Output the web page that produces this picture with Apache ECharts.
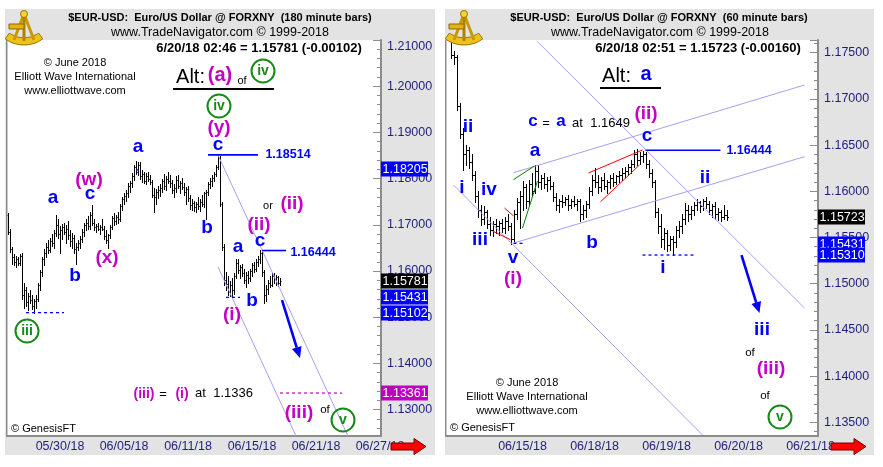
<!DOCTYPE html>
<html><head><meta charset="utf-8">
<script src="https://cdn.jsdelivr.net/npm/echarts@6/dist/echarts.min.js"></script>
<style>
html,body{margin:0;padding:0;background:#fff;overflow:hidden;}
#bgL{position:absolute;left:5px;top:9px;width:430px;height:446px;background:#e3e3e3;}
#bgR{position:absolute;left:445px;top:9px;width:429px;height:446px;background:#e3e3e3;}
#chart{position:absolute;left:0;top:0;width:883px;height:467px;}
</style></head><body>
<div id="bgL"></div><div id="bgR"></div>
<div id="chart"></div>
<script>
// ---------------- DATA ----------------
const leftDates = ['05/30/18','06/05/18','06/11/18','06/15/18','06/21/18','06/27/18'];
const leftDateIdx = [26,58,90,122,154,186];
const leftCount = 187;
// 180-minute bars [open, high, low, close]
const leftBars = [
[1.1722,1.1726,1.1680,1.1684],[1.1684,1.1690,1.1642,1.1648],[1.1648,1.1652,1.1615,1.1630],[1.1630,1.1636,1.1612,1.1620],
[1.1620,1.1632,1.1608,1.1625],[1.1625,1.1630,1.1612,1.1618],[1.1618,1.1636,1.1614,1.1632],[1.1632,1.1638,1.1540,1.1548],
[1.1548,1.1575,1.1520,1.1560],[1.1560,1.1565,1.1525,1.1532],[1.1532,1.1552,1.1515,1.1545],[1.1545,1.1560,1.1530,1.1538],
[1.1538,1.1548,1.1518,1.1525],[1.1525,1.1540,1.1510,1.1535],[1.1535,1.1548,1.1520,1.1540],[1.1540,1.1575,1.1535,1.1570],
[1.1570,1.1602,1.1560,1.1598],[1.1598,1.1630,1.1590,1.1625],[1.1625,1.1648,1.1612,1.1640],[1.1640,1.1660,1.1630,1.1652],
[1.1652,1.1668,1.1640,1.1645],[1.1645,1.1672,1.1642,1.1665],[1.1665,1.1680,1.1655,1.1660],[1.1660,1.1688,1.1650,1.1682],
[1.1682,1.1721,1.1675,1.1700],[1.1700,1.1712,1.1672,1.1680],[1.1680,1.1698,1.1640,1.1688],[1.1688,1.1702,1.1670,1.1695],
[1.1695,1.1705,1.1680,1.1685],[1.1685,1.1700,1.1660,1.1690],[1.1690,1.1708,1.1670,1.1678],[1.1678,1.1688,1.1655,1.1665],
[1.1665,1.1682,1.1650,1.1672],[1.1672,1.1678,1.1640,1.1648],[1.1648,1.1660,1.1615,1.1652],[1.1652,1.1668,1.1645,1.1660],
[1.1660,1.1675,1.1650,1.1670],[1.1670,1.1690,1.1662,1.1685],[1.1685,1.1705,1.1675,1.1700],[1.1700,1.1712,1.1688,1.1705],
[1.1705,1.1720,1.1690,1.1698],[1.1698,1.1728,1.1692,1.1722],[1.1722,1.1742,1.1700,1.1705],[1.1705,1.1712,1.1688,1.1695],
[1.1695,1.1702,1.1685,1.1698],[1.1698,1.1705,1.1688,1.1692],[1.1692,1.1700,1.1680,1.1695],[1.1695,1.1712,1.1688,1.1690],
[1.1690,1.1698,1.1670,1.1675],[1.1675,1.1688,1.1660,1.1668],[1.1668,1.1680,1.1649,1.1678],[1.1678,1.1700,1.1672,1.1695],
[1.1695,1.1720,1.1690,1.1715],[1.1715,1.1725,1.1700,1.1708],[1.1708,1.1722,1.1702,1.1718],[1.1718,1.1728,1.1705,1.1712],
[1.1712,1.1745,1.1708,1.1740],[1.1740,1.1760,1.1732,1.1755],[1.1755,1.1768,1.1745,1.1762],[1.1762,1.1775,1.1752,1.1768],
[1.1768,1.1790,1.1760,1.1785],[1.1785,1.1795,1.1772,1.1790],[1.1790,1.1812,1.1782,1.1805],[1.1805,1.1830,1.1798,1.1825],
[1.1825,1.1838,1.1810,1.1815],[1.1815,1.1836,1.1808,1.1830],[1.1830,1.1835,1.1800,1.1805],[1.1805,1.1818,1.1792,1.1810],
[1.1810,1.1815,1.1790,1.1795],[1.1795,1.1812,1.1788,1.1805],[1.1805,1.1815,1.1795,1.1800],[1.1800,1.1808,1.1788,1.1792],
[1.1792,1.1798,1.1760,1.1765],[1.1765,1.1780,1.1728,1.1760],[1.1760,1.1778,1.1745,1.1770],[1.1770,1.1785,1.1758,1.1775],
[1.1775,1.1788,1.1762,1.1780],[1.1780,1.1800,1.1772,1.1795],[1.1795,1.1810,1.1778,1.1785],[1.1785,1.1805,1.1775,1.1800],
[1.1800,1.1815,1.1790,1.1795],[1.1795,1.1808,1.1782,1.1790],[1.1790,1.1798,1.1768,1.1775],[1.1775,1.1788,1.1760,1.1780],
[1.1780,1.1805,1.1772,1.1798],[1.1798,1.1808,1.1780,1.1785],[1.1785,1.1795,1.1768,1.1790],[1.1790,1.1802,1.1778,1.1782],
[1.1782,1.1790,1.1765,1.1770],[1.1770,1.1782,1.1745,1.1778],[1.1778,1.1785,1.1752,1.1758],[1.1758,1.1765,1.1735,1.1742],
[1.1742,1.1755,1.1732,1.1748],[1.1748,1.1752,1.1730,1.1738],[1.1738,1.1750,1.1728,1.1745],[1.1745,1.1760,1.1735,1.1740],
[1.1740,1.1755,1.1730,1.1750],[1.1750,1.1765,1.1740,1.1745],[1.1745,1.1772,1.1738,1.1768],[1.1768,1.1775,1.1712,1.1770],
[1.1770,1.1792,1.1765,1.1788],[1.1788,1.1802,1.1780,1.1795],[1.1795,1.1808,1.1785,1.1802],[1.1802,1.1815,1.1795,1.1810],
[1.1810,1.1830,1.1805,1.1825],[1.1825,1.1851,1.1820,1.1845],[1.1845,1.1848,1.1740,1.1745],[1.1745,1.1750,1.1645,1.1652],
[1.1652,1.1658,1.1570,1.1580],[1.1580,1.1598,1.1560,1.1572],[1.1572,1.1590,1.1548,1.1555],[1.1555,1.1578,1.1545,1.1570],
[1.1570,1.1585,1.1543,1.1560],[1.1560,1.1595,1.1550,1.1590],[1.1590,1.1627,1.1585,1.1618],[1.1618,1.1625,1.1595,1.1602],
[1.1602,1.1612,1.1585,1.1608],[1.1608,1.1615,1.1590,1.1595],[1.1595,1.1605,1.1575,1.1580],[1.1580,1.1598,1.1565,1.1592],
[1.1592,1.1600,1.1575,1.1585],[1.1585,1.1605,1.1578,1.1600],[1.1600,1.1618,1.1590,1.1612],[1.1612,1.1620,1.1598,1.1605],
[1.1605,1.1625,1.1600,1.1620],[1.1620,1.1632,1.1610,1.1625],[1.1625,1.1645,1.1618,1.1638],[1.1638,1.1642,1.1590,1.1598],
[1.1598,1.1602,1.1530,1.1548],[1.1548,1.1570,1.1535,1.1562],[1.1562,1.1580,1.1550,1.1575],[1.1575,1.1590,1.1565,1.1570],
[1.1570,1.1595,1.1568,1.1590],[1.1590,1.1596,1.1575,1.1582],[1.1582,1.1592,1.1570,1.1588],[1.1588,1.1590,1.1568,1.1575],
[1.1575,1.1585,1.1570,1.1578]
];
const rightDates = ['06/15/18','06/18/18','06/19/18','06/20/18','06/21/18'];
const rightDateIdx = [25,49,73,97,121];
const rightCount = 124;
const rightStart = 1;
// 60-minute bars [open, high, low, close]
const rightBars = [
[1.1800,1.1810,1.1744,1.1748],[1.1748,1.1752,1.1738,1.1745],[1.1745,1.1748,1.1688,1.1692],[1.1692,1.1695,1.1658,1.1662],
[1.1662,1.1668,1.1623,1.1640],[1.1640,1.1650,1.1628,1.1645],[1.1645,1.1648,1.1625,1.1632],[1.1632,1.1640,1.1612,1.1618],
[1.1618,1.1622,1.1588,1.1595],[1.1595,1.1600,1.1572,1.1580],[1.1580,1.1585,1.1563,1.1570],[1.1570,1.1584,1.1565,1.1578],
[1.1578,1.1580,1.1560,1.1565],[1.1565,1.1572,1.1553,1.1558],[1.1558,1.1568,1.1552,1.1565],[1.1565,1.1570,1.1555,1.1562],
[1.1562,1.1568,1.1553,1.1566],[1.1566,1.1570,1.1556,1.1560],[1.1560,1.1572,1.1555,1.1568],[1.1568,1.1575,1.1558,1.1562],
[1.1562,1.1566,1.1543,1.1548],[1.1548,1.1580,1.1546,1.1575],[1.1575,1.1593,1.1570,1.1588],[1.1588,1.1600,1.1560,1.1595],
[1.1595,1.1611,1.1580,1.1605],[1.1605,1.1608,1.1582,1.1590],[1.1590,1.1612,1.1585,1.1608],[1.1608,1.1620,1.1595,1.1600],
[1.1600,1.1628,1.1598,1.1622],[1.1622,1.1628,1.1605,1.1610],[1.1610,1.1618,1.1602,1.1614],[1.1614,1.1620,1.1604,1.1608],
[1.1608,1.1615,1.1600,1.1612],[1.1612,1.1616,1.1603,1.1606],[1.1606,1.1610,1.1590,1.1594],[1.1594,1.1598,1.1580,1.1585],
[1.1585,1.1592,1.1578,1.1590],[1.1590,1.1596,1.1583,1.1588],[1.1588,1.1594,1.1585,1.1592],[1.1592,1.1596,1.1580,1.1585],
[1.1585,1.1592,1.1582,1.1590],[1.1590,1.1595,1.1584,1.1586],[1.1586,1.1592,1.1580,1.1590],[1.1590,1.1592,1.1568,1.1575],
[1.1575,1.1585,1.1570,1.1580],[1.1580,1.1590,1.1572,1.1586],[1.1586,1.1605,1.1582,1.1600],[1.1600,1.1618,1.1596,1.1612],
[1.1612,1.1625,1.1605,1.1610],[1.1610,1.1618,1.1598,1.1605],[1.1605,1.1615,1.1600,1.1612],[1.1612,1.1620,1.1602,1.1606],
[1.1606,1.1612,1.1598,1.1610],[1.1610,1.1618,1.1604,1.1614],[1.1614,1.1620,1.1606,1.1610],[1.1610,1.1618,1.1608,1.1616],
[1.1616,1.1622,1.1610,1.1618],[1.1618,1.1625,1.1612,1.1620],[1.1620,1.1626,1.1615,1.1622],[1.1622,1.1630,1.1618,1.1626],
[1.1626,1.1634,1.1620,1.1630],[1.1630,1.1645,1.1626,1.1640],[1.1640,1.1646,1.1628,1.1634],[1.1634,1.1642,1.1630,1.1638],
[1.1638,1.1644,1.1632,1.1640],[1.1640,1.1642,1.1625,1.1630],[1.1630,1.1634,1.1615,1.1620],[1.1620,1.1624,1.1605,1.1610],
[1.1610,1.1612,1.1572,1.1578],[1.1578,1.1582,1.1555,1.1562],[1.1562,1.1575,1.1540,1.1548],[1.1548,1.1560,1.1538,1.1555],
[1.1555,1.1558,1.1535,1.1542],[1.1542,1.1552,1.1536,1.1548],[1.1548,1.1552,1.1531,1.1545],[1.1545,1.1562,1.1540,1.1558],
[1.1558,1.1568,1.1550,1.1562],[1.1562,1.1575,1.1555,1.1570],[1.1570,1.1587,1.1565,1.1580],[1.1580,1.1585,1.1568,1.1575],
[1.1575,1.1584,1.1570,1.1580],[1.1580,1.1588,1.1574,1.1585],[1.1585,1.1592,1.1580,1.1588],[1.1588,1.1590,1.1578,1.1584],
[1.1584,1.1592,1.1580,1.1590],[1.1590,1.1594,1.1582,1.1586],[1.1586,1.1590,1.1575,1.1580],[1.1580,1.1586,1.1572,1.1584],
[1.1584,1.1588,1.1570,1.1575],[1.1575,1.1582,1.1569,1.1578],[1.1578,1.1580,1.1568,1.1572],[1.1572,1.1585,1.1570,1.1574],
[1.1574,1.1580,1.1569,1.1572]
];
// annotation geometry in (bar index, price)
const leftChannel = [[105,1.18511,169.5,1.12429],[104.5,1.16087,144,1.12429]];
const leftLevels = [[99.5,1.18514,125,1.18514],[127,1.16444,138.5,1.16444]];
const leftDashBlue = [[8.5,1.1510,27.5,1.1510],[108.5,1.1543,116,1.1543],[64,1.1819,67,1.1819]];
const leftDashTarget = [[136,1.1336,167,1.1336]];
const leftArrow = [137,1.15372,145.5,1.14117];
const leftTags = [[1.18205,'level'],[1.15781,'last'],[1.15431,'level'],[1.15102,'level'],[1.13361,'target']];

const rightChannel = [[21.8,1.16201,119.2,1.1715],[21.8,1.1544,119.2,1.16374],[29.8,1.17619,119.2,1.14737],[1.8,1.16068,84.8,1.13363]];
const rightRed = [[14.7,1.1557,20.8,1.15476],[18.8,1.15819,21.8,1.15733],[46.8,1.16198,64.8,1.16447],[50.8,1.15887,64.2,1.16285]];
const rightGreen = [[21.8,1.16126,29.2,1.16274],[24.8,1.15603,30.2,1.16112]];
const rightLevels = [[65.8,1.16444,90.8,1.16444]];
const rightDashBlue = [[64.8,1.1531,81.8,1.1531],[21.8,1.15437,24.8,1.15437]];
const rightArrow = [97.8,1.1531,103.5,1.14682];
const rightTags = [[1.15723,'last'],[1.15431,'level'],[1.1531,'level']];

// ---------------- RENDER ----------------
const F = "'Liberation Sans', Arial, sans-serif";
const BLUE = '#0000ff', MAG = '#c400c4', GRN = '#168a16', NAVY = '#1e1e80', AX = '#8c8c8c', CH = '#a99ff0';
const tagColor = {level: BLUE, last: '#000000', target: '#c000c0'};

function cats(n, idx, dates){ const a=[]; for(let i=0;i<n;i++){ const k=idx.indexOf(i); a.push(k>=0?dates[k]:''+i);} return a; }
function barData(bars, start){ return bars.map((b,i)=>[i+start,b[0],b[1],b[2],b[3]]); }

function ohlcRender(tw){
  return function(params, api){
    const i=api.value(0);
    const pH=api.coord([i,api.value(2)]), pL=api.coord([i,api.value(3)]);
    const pO=api.coord([i,api.value(1)]), pC=api.coord([i,api.value(4)]);
    const x=Math.round(pH[0])+0.5, yo=Math.round(pO[1])+0.5, yc=Math.round(pC[1])+0.5;
    const st={stroke:'#000',lineWidth:1};
    return {type:'group',children:[
      {type:'line',shape:{x1:x,y1:Math.round(pH[1]),x2:x,y2:Math.round(pL[1])+1},style:st},
      {type:'line',shape:{x1:x-tw,y1:yo,x2:x,y2:yo},style:st},
      {type:'line',shape:{x1:x,y1:yc,x2:x+tw,y2:yc},style:st}
    ]};
  };
}

function annotRender(cfg){
  return function(params, api){
    const cs=params.coordSys;
    const P=(i,p)=>api.coord([i,p]);
    const ch=[];
    const seg=(s,style)=>{const a=P(s[0],s[1]),b=P(s[2],s[3]);ch.push({type:'line',shape:{x1:a[0],y1:a[1],x2:b[0],y2:b[1]},style:style});};
    (cfg.channel||[]).forEach(s=>seg(s,{stroke:CH,lineWidth:1}));
    (cfg.red||[]).forEach(s=>seg(s,{stroke:'#ff0000',lineWidth:1}));
    (cfg.green||[]).forEach(s=>seg(s,{stroke:'#008000',lineWidth:1}));
    (cfg.levels||[]).forEach(s=>seg(s,{stroke:BLUE,lineWidth:1.6}));
    (cfg.dashBlue||[]).forEach(s=>seg(s,{stroke:BLUE,lineWidth:1.3,lineDash:[3,3]}));
    (cfg.dashTarget||[]).forEach(s=>seg(s,{stroke:'#c000c0',lineWidth:1.2,lineDash:[3,3]}));
    if(cfg.arrow){
      const a=P(cfg.arrow[0],cfg.arrow[1]), b=P(cfg.arrow[2],cfg.arrow[3]);
      const dx=b[0]-a[0], dy=b[1]-a[1], L=Math.sqrt(dx*dx+dy*dy), ux=dx/L, uy=dy/L;
      const hl=11, hw=5;
      const bx=b[0]-ux*hl, by=b[1]-uy*hl;
      ch.push({type:'line',shape:{x1:a[0],y1:a[1],x2:bx,y2:by},style:{stroke:BLUE,lineWidth:2.6}});
      ch.push({type:'polygon',shape:{points:[[b[0],b[1]],[bx-uy*hw,by+ux*hw],[bx+uy*hw,by-ux*hw]]},style:{fill:BLUE}});
    }
    const xr=cs.x+cs.width;
    (cfg.tags||[]).forEach(t=>{
      const y=P(0,t[0])[1];
      ch.push({type:'rect',shape:{x:xr,y:Math.round(y)-7.5,width:47,height:15},style:{fill:tagColor[t[1]]}});
      ch.push({type:'text',x:xr+1.5,y:Math.round(y)+0.5,style:{text:t[0].toFixed(5),fill:'#fff',font:'12.5px '+F,align:'left',verticalAlign:'middle'}});
    });
    return {type:'group',children:ch};
  };
}

function yLab(interval, topVal){
  return function(v){
    const r=v/interval; if(Math.abs(r-Math.round(r))>1e-6) return '';
    const s=v.toFixed(5);
    if(topVal!=null && Math.abs(v-topVal)<1e-9) return '{t|'+s+'}';
    return s;
  };
}
function yAxisCfg(gi,min,max,interval,topVal){
  return {gridIndex:gi,type:'value',position:'right',min:min,max:max,minInterval:interval,maxInterval:interval,splitNumber:8,
    splitLine:{show:false},
    axisLine:{show:true,lineStyle:{color:AX,width:2}},
    axisTick:{show:true,inside:true,length:8,lineStyle:{color:AX,width:1}},
    minorTick:{show:true,splitNumber:5,length:4,lineStyle:{color:AX,width:1}},
    axisLabel:{color:NAVY,fontSize:12.5,fontFamily:F,margin:6,formatter:yLab(interval,topVal),
      rich:{t:{color:NAVY,fontSize:12.5,fontFamily:F,padding:[13,0,0,0]}}}};
}
function xAxisCfg(gi,n,idx,dates){
  return {gridIndex:gi,type:'category',data:cats(n,idx,dates),boundaryGap:true,
    axisLine:{show:true,lineStyle:{color:AX,width:2}},axisTick:{show:false},splitLine:{show:false},
    axisLabel:{color:NAVY,fontSize:12.5,fontFamily:F,margin:4,interval:function(i){return idx.indexOf(i)>=0;}}};
}

function T(x,y,text,size,color,weight,align){
  return {type:'text',x:x,y:y,z:20,silent:true,style:{text:text,fill:color||'#000',font:(weight||'normal')+' '+size+'px '+F,align:align||'center',verticalAlign:'middle'}};
}
function Circ(x,y,text){
  return {type:'group',z:20,children:[
    {type:'circle',z:20,shape:{cx:x,cy:y,r:11.5},style:{fill:'rgba(255,255,255,0)',stroke:GRN,lineWidth:2}},
    {type:'text',z:20,x:x,y:y+0.5,style:{text:text,fill:GRN,font:'bold 14px '+F,align:'center',verticalAlign:'middle'}}]};
}
function logo(ox,oy){
  return {type:'group',x:ox,y:oy,z:20,children:[
    {type:'sector',z:20,shape:{cx:16,cy:2,r:32,r0:25,startAngle:Math.PI*0.30,endAngle:Math.PI*0.70},style:{fill:'#eec21a',stroke:'#9a7400',lineWidth:1}},
    {type:'polyline',z:20,shape:{points:[[6,29],[16,3],[26,29]]},style:{stroke:'#c99a00',lineWidth:3,fill:'none'}},
    {type:'line',z:20,shape:{x1:16,y1:3,x2:16,y2:30},style:{stroke:'#b08400',lineWidth:3}},
    {type:'rect',z:20,shape:{x:1,y:13,width:15,height:5},style:{fill:'#e6b410',stroke:'#8a6a00',lineWidth:1}},
    {type:'circle',z:20,shape:{cx:16,cy:3,r:3.5},style:{fill:'#f4d23a',stroke:'#9a7400',lineWidth:1}}
  ]};
}
function redArrow(x){
  return {type:'polygon',z:20,shape:{points:[[x,443],[x+23,443],[x+23,438.5],[x+35,446.5],[x+23,454.5],[x+23,450],[x,450]]},style:{fill:'#ff0000',stroke:'#700000',lineWidth:1}};
}

const graphics = [
  // left panel
  logo(8,11),
  T(220,18,'$EUR-USD:  Euro/US Dollar @ FORXNY  (180 minute bars)',11,'#000','bold'),
  T(220,33,'www.TradeNavigator.com \u00a9 1999-2018',12.5),
  T(259,48,'6/20/18 02:46 = 1.15781 (-0.00102)',13,'#000','bold'),
  T(75,63,'\u00a9 June 2018',11), T(75,77,'Elliott Wave International',11), T(75,91,'www.elliottwave.com',11),
  T(190.5,77,'Alt:',20), T(220,75,'(a)',20,MAG,'bold'), T(242,81,'of',11), Circ(263,71,'iv'),
  {type:'rect',z:20,shape:{x:173,y:88,width:101,height:2},style:{fill:'#000'}},
  Circ(219,106,'iv'), T(219,128,'(y)',19,MAG,'bold'), T(218,145,'c',19,BLUE,'bold'),
  T(288,155,'1.18514',12.5,BLUE,'bold'),
  T(53,198,'a',19,BLUE,'bold'), T(89,180,'(w)',19,MAG,'bold'), T(90,194,'c',19,BLUE,'bold'),
  T(75,276,'b',19,BLUE,'bold'), T(107,258,'(x)',19,MAG,'bold'), T(138,147,'a',19,BLUE,'bold'),
  T(207,228,'b',19,BLUE,'bold'), T(268,206,'or',11), T(292,204,'(ii)',19,MAG,'bold'),
  T(259,225,'(ii)',19,MAG,'bold'), T(260,241,'c',19,BLUE,'bold'), T(313,253,'1.16444',12.5,BLUE,'bold'),
  T(238,247,'a',19,BLUE,'bold'), T(252,301,'b',19,BLUE,'bold'), T(232,315,'(i)',19,MAG,'bold'),
  Circ(27,331,'iii'),
  T(144,394,'(iii)',14,MAG,'bold'), T(163,394,'=',13), T(182,394,'(i)',14,MAG,'bold'), T(224,393,'at  1.1336',13),
  T(299,413,'(iii)',19,MAG,'bold'), T(325,410,'of',11.5), Circ(343,420,'v'),
  T(11,429,'\u00a9 GenesisFT',11,'#000','normal','left'),
  {type:'rect',z:20,shape:{x:6,y:40,width:1.5,height:397},style:{fill:AX}},
  redArrow(391),
  // right panel
  logo(448,11),
  T(659,18,'$EUR-USD:  Euro/US Dollar @ FORXNY  (60 minute bars)',11,'#000','bold'),
  T(660,33,'www.TradeNavigator.com \u00a9 1999-2018',12.5),
  T(698,48,'6/20/18 02:51 = 1.15723 (-0.00160)',13,'#000','bold'),
  T(616.5,76,'Alt:',20), T(646,74,'a',20,BLUE,'bold'),
  {type:'rect',z:20,shape:{x:600,y:87,width:61,height:2},style:{fill:'#000'}},
  T(533,121,'c',17,BLUE,'bold'), T(546,123,'=',13), T(561,121,'a',17,BLUE,'bold'), T(601,123,'at  1.1649',13),
  T(646,114,'(ii)',19,MAG,'bold'), T(647,136,'c',19,BLUE,'bold'), T(749,151,'1.16444',12.5,BLUE,'bold'),
  T(468,127,'ii',19,BLUE,'bold'), T(462,188,'i',19,BLUE,'bold'), T(489,190,'iv',19,BLUE,'bold'),
  T(480,240,'iii',19,BLUE,'bold'), T(513,258,'v',19,BLUE,'bold'), T(513,279,'(i)',19,MAG,'bold'),
  T(535,151,'a',19,BLUE,'bold'), T(592,243,'b',19,BLUE,'bold'), T(663,268,'i',19,BLUE,'bold'),
  T(705,178,'ii',19,BLUE,'bold'),
  T(762,330,'iii',19,BLUE,'bold'), T(750,353,'of',11.5), T(771,369,'(iii)',19,MAG,'bold'), T(765,396,'of',11.5),
  Circ(780,417,'v'),
  T(527,383,'\u00a9 June 2018',11), T(527,397,'Elliott Wave International',11), T(527,411,'www.elliottwave.com',11),
  T(450,428,'\u00a9 GenesisFT',11,'#000','normal','left'),
  {type:'rect',z:20,shape:{x:445,y:40,width:1.5,height:397},style:{fill:AX}},
  redArrow(831)
];

const chart = echarts.init(document.getElementById('chart'), null, {renderer:'canvas'});
chart.setOption({
  animation:false,
  backgroundColor:'transparent',
  grid:[
    {left:7,top:40,width:374,height:396,show:true,backgroundColor:'#ffffff',borderWidth:0},
    {left:446,top:40,width:372,height:396,show:true,backgroundColor:'#ffffff',borderWidth:0}
  ],
  xAxis:[xAxisCfg(0,leftCount,leftDateIdx,leftDates), xAxisCfg(1,rightCount,rightDateIdx,rightDates)],
  yAxis:[yAxisCfg(0,1.1243,1.21,0.01,1.21), yAxisCfg(1,1.13352,1.17637,0.005,null)],
  series:[
    {type:'custom',xAxisIndex:0,yAxisIndex:0,data:barData(leftBars,0),encode:{x:0,y:[1,2,3,4]},renderItem:ohlcRender(1),clip:true,silent:true,z:2},
    {type:'custom',xAxisIndex:1,yAxisIndex:1,data:barData(rightBars,rightStart),encode:{x:0,y:[1,2,3,4]},renderItem:ohlcRender(1.5),clip:true,silent:true,z:2},
    {type:'custom',xAxisIndex:0,yAxisIndex:0,data:[[0,1.17]],renderItem:annotRender({channel:leftChannel,levels:leftLevels,dashBlue:leftDashBlue,dashTarget:leftDashTarget,arrow:leftArrow,tags:leftTags}),clip:false,silent:true,z:3},
    {type:'custom',xAxisIndex:1,yAxisIndex:1,data:[[0,1.16]],renderItem:annotRender({channel:rightChannel,red:rightRed,green:rightGreen,levels:rightLevels,dashBlue:rightDashBlue,arrow:rightArrow,tags:rightTags}),clip:false,silent:true,z:3}
  ],
  graphic:graphics
});
</script>
</body></html>
